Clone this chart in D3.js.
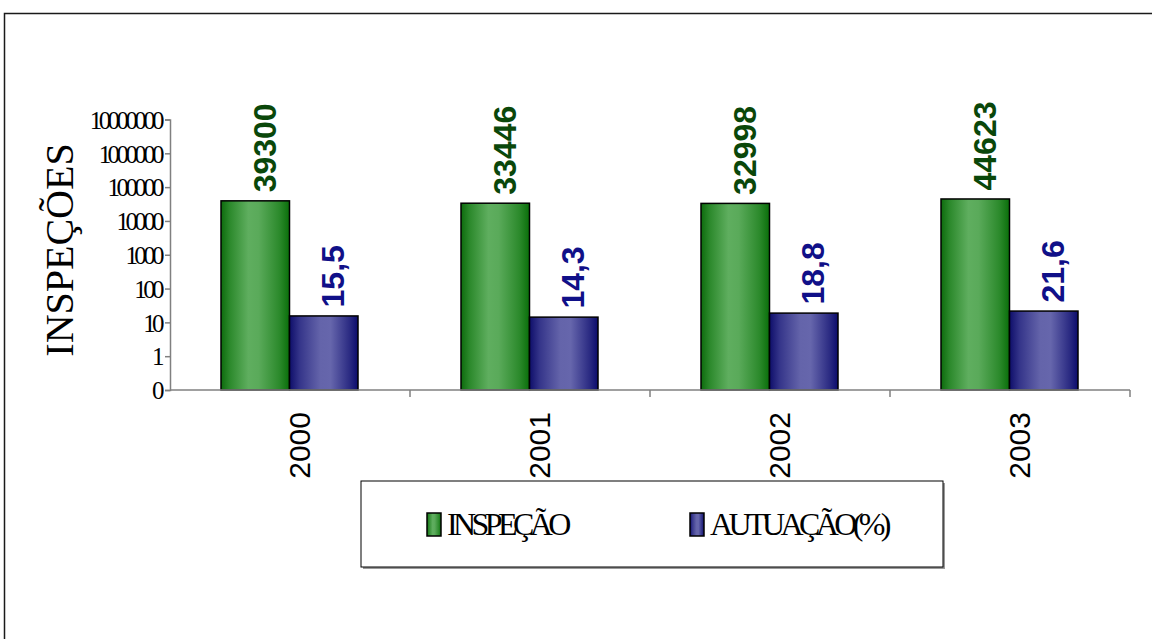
<!DOCTYPE html>
<html>
<head>
<meta charset="utf-8">
<script src="https://cdn.jsdelivr.net/npm/d3@7"></script>
<style>
  html, body { margin: 0; padding: 0; background: #fff; }
  svg { display: block; }
</style>
</head>
<body>
<svg id="chart" width="1152" height="639"></svg>
<script>
// Yearly figures
const years = ["2000", "2001", "2002", "2003"];
const inspecao = [39300, 33446, 32998, 44623];
const autuacao = [15.5, 14.3, 18.8, 21.6];
const inspecaoLabels = ["39300", "33446", "32998", "44623"];
const autuacaoLabels = ["15,5", "14,3", "18,8", "21,6"];
const seriesNames = ["INSPEÇÃO", "AUTUAÇÃO(%)"];
const tickValues = [0.1, 1, 10, 100, 1000, 10000, 100000, 1000000, 10000000];
const tickLabels = ["0", "1", "10", "100", "1000", "10000", "100000", "1000000", "10000000"];

const svg = d3.select("#chart");

// gradients for the bar fills
const defs = svg.append("defs");
function grad(id, stops) {
  const g = defs.append("linearGradient").attr("id", id)
    .attr("x1", "0%").attr("x2", "100%").attr("y1", "0%").attr("y2", "0%");
  stops.forEach(([o, c]) => g.append("stop").attr("offset", o).attr("stop-color", c));
}
grad("gGreen", [["0%", "#0d6b0d"], ["12%", "#2a882a"], ["40%", "#5fae5f"], ["55%", "#5aaa5a"], ["85%", "#2c8a2c"], ["100%", "#0a6e0a"]]);
grad("gBlue", [["0%", "#0e0e6a"], ["15%", "#35358a"], ["45%", "#6464aa"], ["60%", "#6666ac"], ["88%", "#2a2a82"], ["100%", "#0c0c6c"]]);

// outer frame
svg.append("rect").attr("x", 4.5).attr("y", 13.5).attr("width", 1300).attr("height", 800)
  .attr("fill", "none").attr("stroke", "#1a1a1a").attr("stroke-width", 1.5);

const x0 = d3.scaleBand().domain(years).range([170, 1130]);
const x1 = d3.scaleBand().domain([0, 1]).range([0, 137]);
const y = d3.scaleLog().domain([0.1, 10000000]).range([390, 119.5]);

const groupOffset = (x0.bandwidth() - 137) / 2 - 0.5;

// bars
const data = years.map((yr, i) => ({ yr, vals: [inspecao[i], autuacao[i]], labels: [inspecaoLabels[i], autuacaoLabels[i]] }));
const fills = ["url(#gGreen)", "url(#gBlue)"];
const labelColors = ["#0a470a", "#101088"];

const groups = svg.append("g").selectAll("g").data(data).join("g")
  .attr("transform", d => `translate(${x0(d.yr) + groupOffset},0)`);

groups.selectAll("rect").data(d => d.vals.map((v, k) => ({ v, k }))).join("rect")
  .attr("x", d => x1(d.k))
  .attr("y", d => y(d.v))
  .attr("width", x1.bandwidth())
  .attr("height", d => y(0.1) - y(d.v))
  .attr("fill", d => fills[d.k])
  .attr("stroke", "#000").attr("stroke-width", 1.5);

groups.selectAll("text").data(d => d.vals.map((v, k) => ({ v, k, label: d.labels[k] }))).join("text")
  .attr("transform", d => `translate(${x1(d.k) + x1.bandwidth() / 2 + 20.5},${y(d.v) - 8.5}) rotate(-90)`)
  .attr("text-anchor", "start")
  .attr("font-family", "Arial, 'Liberation Sans', sans-serif")
  .attr("font-weight", "bold")
  .attr("font-size", 32)
  .attr("fill", d => labelColors[d.k])
  .text(d => d.label);

// y axis
const axisColor = "#808080";
const yAxis = svg.append("g").attr("transform", "translate(170,0)")
  .call(d3.axisLeft(y).tickValues(tickValues).tickSize(5).tickPadding(4)
    .tickFormat((d, i) => tickLabels[i]));
yAxis.select(".domain").attr("stroke", axisColor).attr("stroke-width", 1.5);
yAxis.selectAll(".tick line").attr("stroke", axisColor).attr("stroke-width", 1.5);
yAxis.selectAll(".tick text")
  .attr("font-family", "'Times New Roman', 'Liberation Serif', serif")
  .attr("font-size", 25).attr("fill", "#000")
  .attr("letter-spacing", "-3.6px")
  .attr("dy", "0.35em");

// x axis line with separators between categories
const xAxisG = svg.append("g");
xAxisG.append("line").attr("x1", 170).attr("x2", 1130).attr("y1", 390).attr("y2", 390)
  .attr("stroke", axisColor).attr("stroke-width", 1.5);
const seps = years.map(yr => x0(yr)).concat([x0(years[years.length - 1]) + x0.bandwidth()]);
xAxisG.selectAll("line.sep").data(seps.slice(1)).join("line").attr("class", "sep")
  .attr("x1", d => d).attr("x2", d => d).attr("y1", 390).attr("y2", 397)
  .attr("stroke", axisColor).attr("stroke-width", 1.5);
xAxisG.selectAll("text").data(years).join("text")
  .attr("transform", d => `translate(${x0(d) + x0.bandwidth() / 2 + 20},412) rotate(-90)`)
  .attr("text-anchor", "end")
  .attr("font-family", "Arial, 'Liberation Sans', sans-serif")
  .attr("font-size", 30)
  .attr("fill", "#000")
  .text(d => d);

// y axis title
svg.append("text")
  .attr("transform", "translate(73,250) rotate(-90)")
  .attr("text-anchor", "middle")
  .attr("font-family", "'Times New Roman', 'Liberation Serif', serif")
  .attr("font-size", 40)
  .attr("fill", "#000")
  .text("INSPEÇÕES");

// legend
const legend = svg.append("g");
legend.append("rect").attr("x", 363).attr("y", 483).attr("width", 582).attr("height", 86)
  .attr("fill", "#9a9a9a");
legend.append("rect").attr("x", 361).attr("y", 481).attr("width", 582).attr("height", 86)
  .attr("fill", "#fff").attr("stroke", "#000").attr("stroke-width", 1);
const legendX = [427, 690];
seriesNames.forEach((name, k) => {
  legend.append("rect").attr("x", legendX[k]).attr("y", 513).attr("width", 14).attr("height", 23)
    .attr("fill", fills[k]).attr("stroke", "#000").attr("stroke-width", 1.5);
  legend.append("text").attr("x", legendX[k] + 20).attr("y", 535)
    .attr("font-family", "'Times New Roman', 'Liberation Serif', serif")
    .attr("font-size", 32).attr("letter-spacing", "-4.6px").attr("fill", "#000")
    .text(name);
});
</script>
</body>
</html>
